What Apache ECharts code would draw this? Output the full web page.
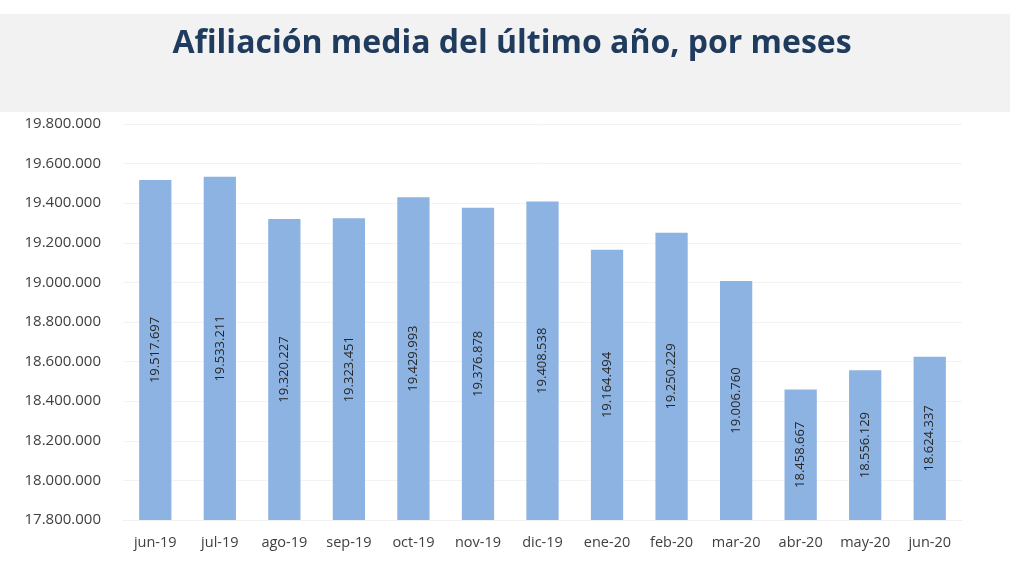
<!DOCTYPE html>
<html>
<head>
<meta charset="utf-8">
<script src="https://cdn.jsdelivr.net/npm/echarts@6/dist/echarts.min.js"></script>
<style>
  html, body { margin: 0; padding: 0; background: #fff; }
  #main { width: 1024px; height: 576px; }
</style>
</head>
<body>
<div id="main"></div>
<script>
// meses y afiliación media
var months = ['jun-19', 'jul-19', 'ago-19', 'sep-19', 'oct-19', 'nov-19', 'dic-19',
              'ene-20', 'feb-20', 'mar-20', 'abr-20', 'may-20', 'jun-20'];
var afiliados = [19517697, 19533211, 19320227, 19323451, 19429993, 19376878, 19408538,
                 19164494, 19250229, 19006760, 18458667, 18556129, 18624337];
var yMin = 17800000, yMax = 19800000, yStep = 200000;

function fmt(v) {
    return String(v).replace(/\B(?=(\d{3})+(?!\d))/g, '.');
}

var mychart = echarts.init(document.getElementById('main'));

var option = {
    backgroundColor: '#fff',
    animation: false,
    graphic: [
        {
            type: 'rect',
            shape: { x: 0, y: 14, width: 1010, height: 98 },
            style: { fill: '#f2f2f2' },
            z: 0
        }
    ],
    title: {
        text: 'Afiliación media del último año, por meses',
        left: 'center',
        top: 23,
        textStyle: {
            fontFamily: 'Open Sans',
            fontWeight: 'bold',
            fontSize: 32,
            color: '#1f3b5e'
        }
    },
    grid: {
        left: 123,
        right: 62,
        top: 124,
        bottom: 56
    },
    xAxis: {
        type: 'category',
        data: months,
        axisLine: { show: true, lineStyle: { color: '#f0f0f0' } },
        axisTick: { show: false },
        axisLabel: {
            interval: 0,
            color: '#404040',
            fontSize: 14.5,
            fontFamily: 'Open Sans',
            margin: 15
        }
    },
    yAxis: {
        type: 'value',
        min: yMin,
        max: yMax,
        interval: yStep,
        axisLine: { show: false },
        axisTick: { show: false },
        splitLine: { lineStyle: { color: '#f3f3f3' } },
        axisLabel: {
            color: '#404040',
            fontSize: 15,
            fontFamily: 'Open Sans',
            margin: 22,
            formatter: fmt
        }
    },
    series: [
        {
            type: 'bar',
            data: afiliados,
            barWidth: '50%',
            itemStyle: { color: '#8db3e2' },
            label: {
                show: true,
                position: 'inside',
                rotate: 90,
                color: '#262626',
                fontSize: 13,
                fontFamily: 'Open Sans',
                formatter: function (p) { return fmt(p.value); }
            }
        }
    ]
};

mychart.setOption(option, true);
</script>
</body>
</html>
